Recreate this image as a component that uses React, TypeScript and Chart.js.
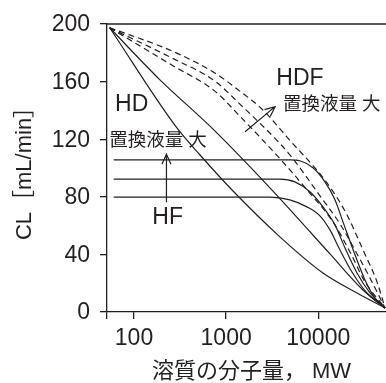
import React, { useEffect, useRef } from "react";
import { Chart, registerables } from "chart.js";

Chart.register(...registerables);

const INK = "#231f20";
const FONT = "'Liberation Sans', Arial, 'Noto Sans CJK JP', sans-serif";

// axis
const X_MIN = 50.9;
const X_MAX = 54400;
const X_TICKS = [100, 1000, 10000];
const Y_TICKS = [0, 40, 80, 120, 160, 200];
const X_TITLE = "溶質の分子量， MW";
const Y_TITLE = "CL［mL/min］";

// HD (solid)
const HD1_MW = [54.4, 291, 518, 1153, 3835, 11250, 26340, 53090];
const HD1_CL = [197.4, 128.0, 109.2, 84.9, 52.2, 27.1, 13.2, 2.8];
const HD2_MW = [54.4, 190, 694, 1810, 5309, 13407, 30610, 53090];
const HD2_CL = [197.4, 161.4, 128.0, 100.9, 68.9, 40.3, 15.3, 2.8];

// HDF (dashed)
const HDF1_MW = [54.4, 257, 754, 1409, 3835, 7538, 14447, 22110, 32180, 53090];
const HDF1_CL = [197.4, 171.5, 153.4, 136.0, 106.5, 84.9, 62.6, 41.7, 20.9, 2.8];
const HDF2_MW = [54.4, 257, 754, 1409, 3835, 5309, 10435, 17216, 25700, 38350, 53090];
const HDF2_CL = [197.4, 176.4, 160.4, 144.4, 117.0, 106.5, 80.7, 61.2, 41.7, 20.9, 2.8];
const HDF3_MW = [54.4, 257, 754, 1409, 2443, 4925, 12433, 20510, 30610, 43450, 53090];
const HDF3_CL = [197.4, 181.3, 166.0, 153.4, 141.0, 119.2, 89.7, 67.5, 43.1, 20.9, 2.8];

// HF (solid)
const HF1_MW = [60.2, 4925, 6326, 8758, 11826, 15190, 18556, 25060, 32180, 41340, 53090];
const HF1_CL = [105.7, 105.7, 105.0, 100.2, 90.4, 77.9, 62.6, 39.7, 22.3, 9.7, 2.8];
const HF2_MW = [60.2, 3835, 5581, 8124, 11250, 15190, 19510, 26340, 36480, 53090];
const HF2_CL = [92.3, 92.3, 90.4, 83.5, 73.0, 60.5, 44.5, 27.1, 13.2, 2.8];
const HF3_MW = [60.2, 2985, 4925, 7538, 10435, 13407, 17216, 23240, 33830, 53090];
const HF3_CL = [79.8, 79.8, 77.9, 73.0, 66.8, 57.0, 43.1, 27.8, 13.2, 2.8];

const SUB_LABEL = "置換液量 大";

function pts(xs: number[], ys: number[]) {
  return xs.map((x, i) => ({ x, y: ys[i] }));
}

function line(xs: number[], ys: number[], dashed: boolean) {
  return {
    data: pts(xs, ys),
    borderColor: INK,
    borderWidth: 1.2,
    borderDash: dashed ? [6, 4] : [],
    pointRadius: 0,
    fill: false,
    cubicInterpolationMode: "monotone" as const,
  };
}

function arrow(ctx: CanvasRenderingContext2D, x1: number, y1: number, x2: number, y2: number) {
  const a = Math.atan2(y2 - y1, x2 - x1);
  const len = 11;
  const spread = 0.42;
  ctx.beginPath();
  ctx.moveTo(x1, y1);
  ctx.lineTo(x2, y2);
  ctx.moveTo(x2 - len * Math.cos(a - spread), y2 - len * Math.sin(a - spread));
  ctx.lineTo(x2, y2);
  ctx.lineTo(x2 - len * Math.cos(a + spread), y2 - len * Math.sin(a + spread));
  ctx.stroke();
}

const annotPlugin = {
  id: "annot",
  afterDatasetsDraw(chart: any) {
    const { ctx, chartArea, scales } = chart;
    const xs = scales.x;
    const ys = scales.y;
    const px = (v: number) => xs.getPixelForValue(v);
    const py = (v: number) => ys.getPixelForValue(v);
    ctx.save();
    ctx.strokeStyle = INK;
    ctx.fillStyle = INK;
    ctx.lineWidth = 1.3;
    // top frame line
    ctx.beginPath();
    ctx.moveTo(chartArea.left, chartArea.top);
    ctx.lineTo(chartArea.right, chartArea.top);
    ctx.stroke();

    ctx.lineWidth = 1.2;
    arrow(ctx, px(225), py(76.3), px(225), py(109.6));
    arrow(ctx, px(1605), py(125.2), px(3400), py(142.6));

    ctx.textBaseline = "middle";
    ctx.textAlign = "center";
    ctx.font = `23px ${FONT}`;
    ctx.fillText("HD", px(94.4), py(144));
    ctx.fillText("HDF", px(6326), py(162.1));
    ctx.fillText("HF", px(232), py(65.4));
    ctx.font = `18.5px ${FONT}`;
    ctx.textAlign = "left";
    ctx.fillText(SUB_LABEL, px(4134), py(144));
    ctx.fillText(SUB_LABEL, px(53.8), py(119));

    // x axis title
    ctx.font = `22px ${FONT}`;
    ctx.textAlign = "center";
    ctx.fillText(X_TITLE, (chartArea.left + chartArea.right) / 2 + 5, chart.height - 11);
    ctx.restore();
  },
};

export default function App() {
  const ref = useRef<HTMLCanvasElement | null>(null);
  useEffect(() => {
    if (!ref.current) return;
    const tickFont = { family: FONT, size: 23 };
    const chart = new Chart(ref.current, {
      type: "line",
      data: {
        datasets: [
          line(HD1_MW, HD1_CL, false),
          line(HD2_MW, HD2_CL, false),
          line(HF1_MW, HF1_CL, false),
          line(HF2_MW, HF2_CL, false),
          line(HF3_MW, HF3_CL, false),
          line(HDF1_MW, HDF1_CL, true),
          line(HDF2_MW, HDF2_CL, true),
          line(HDF3_MW, HDF3_CL, true),
        ] as any,
      },
      options: {
        animation: false,
        responsive: false,
        devicePixelRatio: 1,
        layout: { padding: { top: 24, right: 0, bottom: 0, left: 0 } },
        plugins: { legend: { display: false }, tooltip: { enabled: false } },
        scales: {
          x: {
            type: "logarithmic",
            min: X_MIN,
            max: X_MAX,
            afterBuildTicks: (s: any) => {
              s.ticks = [{ value: X_MIN }, ...X_TICKS.map((v) => ({ value: v }))];
            },
            afterFit: (s: any) => {
              s.height = 71;
            },
            ticks: {
              font: tickFont,
              color: INK,
              padding: 6,
              maxRotation: 0,
              autoSkip: false,
              callback: (v: any) => (X_TICKS.includes(Number(v)) ? String(v) : ""),
            },
            grid: { drawOnChartArea: false, drawTicks: true, tickLength: 7, color: INK, lineWidth: 1.3 },
            border: { display: true, color: INK, width: 1.3 },
          },
          y: {
            type: "linear",
            min: 0,
            max: 200,
            afterBuildTicks: (s: any) => {
              s.ticks = Y_TICKS.map((v) => ({ value: v }));
            },
            afterFit: (s: any) => {
              s.width = 107;
            },
            ticks: { font: tickFont, color: INK, padding: 10, labelOffset: 1 },
            grid: { drawOnChartArea: false, drawTicks: true, tickLength: 7, color: INK, lineWidth: 1.3 },
            border: { display: true, color: INK, width: 1.3 },
            title: {
              display: true,
              text: Y_TITLE,
              color: INK,
              font: { family: FONT, size: 22, lineHeight: 1 },
              padding: { top: 14, bottom: 0 },
            },
          },
        },
      },
      plugins: [annotPlugin],
    });
    return () => chart.destroy();
  }, []);
  return (
    <div style={{ position: "absolute", left: 0, top: 0, width: 386, height: 383, background: "#fff" }}>
      <canvas ref={ref} width={386} height={383} />
    </div>
  );
}
